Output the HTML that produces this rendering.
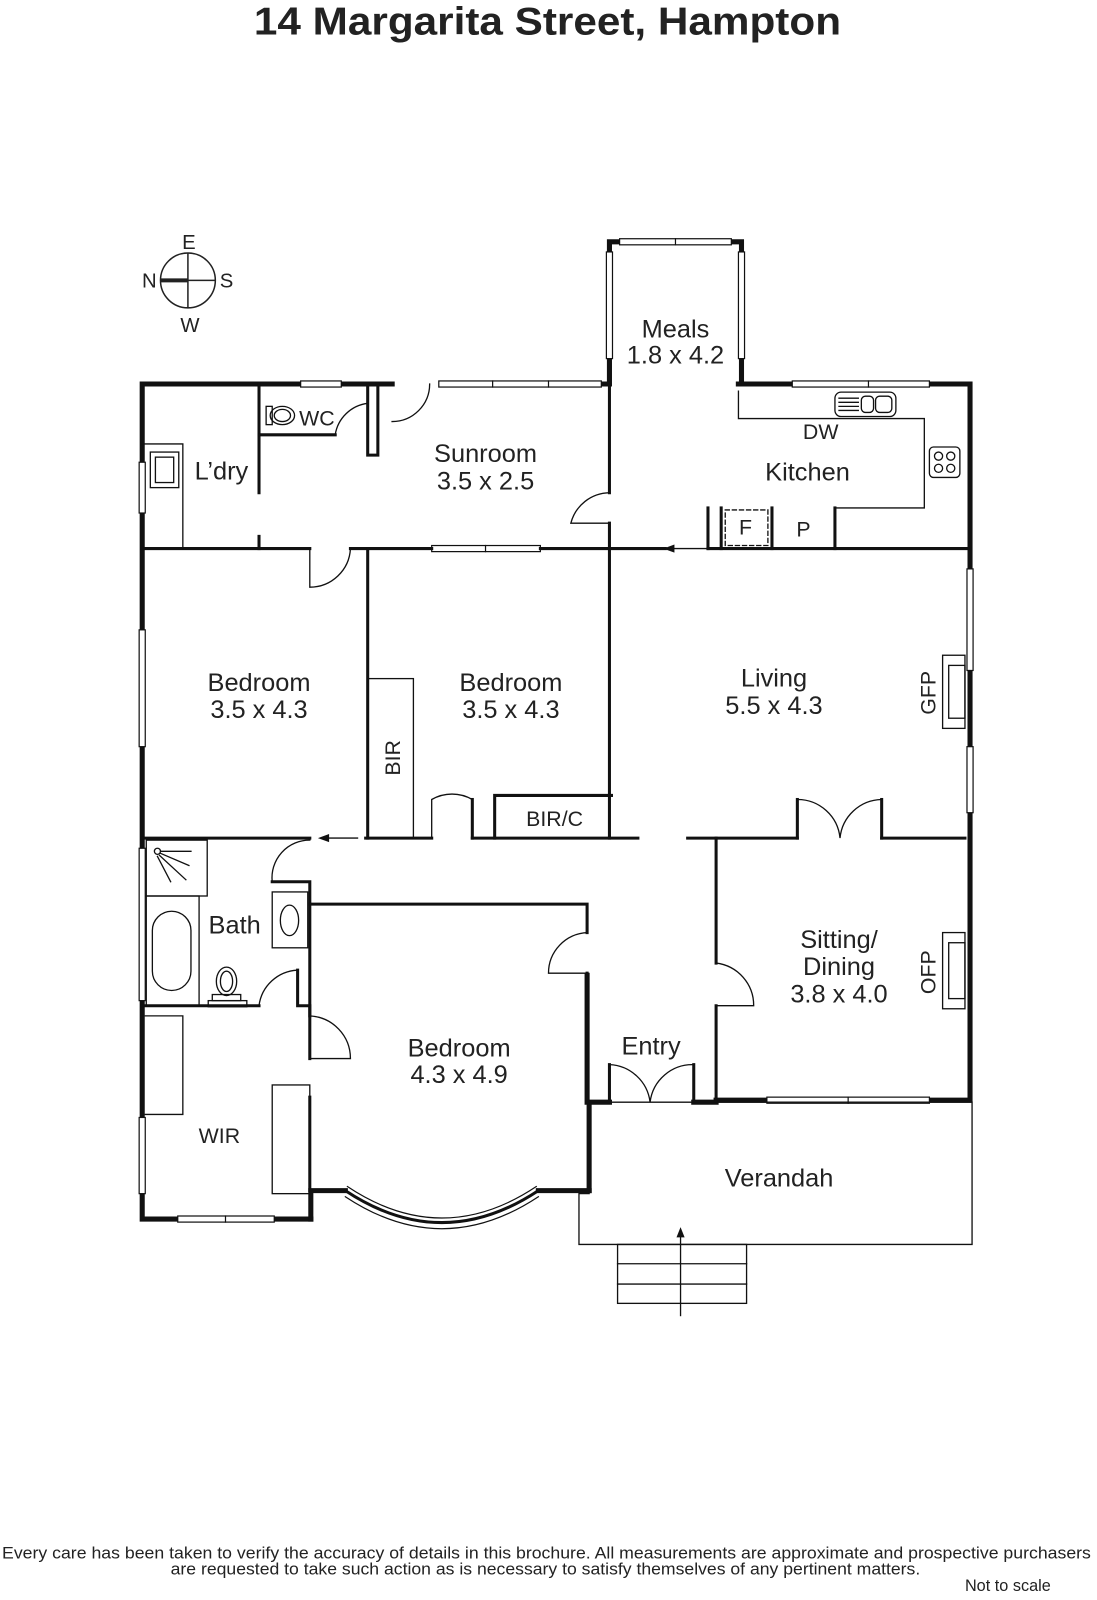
<!DOCTYPE html>
<html><head><meta charset="utf-8"><style>
html,body{margin:0;padding:0;background:#fff;}
svg{display:block}
text{font-family:"Liberation Sans",sans-serif;fill:#222;}
</style></head><body>
<svg width="1097" height="1600" viewBox="0 0 1080 1575" preserveAspectRatio="none" xmlns="http://www.w3.org/2000/svg">
<text x="250" y="34" font-size="38" font-weight="bold" textLength="578" lengthAdjust="spacingAndGlyphs">14 Margarita Street, Hampton</text>

<!-- compass -->
<g stroke="#222" fill="none" stroke-width="1.5">
<circle cx="185" cy="276" r="27"/>
<line x1="185" y1="249" x2="185" y2="303"/>
<line x1="158" y1="276" x2="212" y2="276"/>
</g>
<line x1="158" y1="276" x2="185" y2="276" stroke="#222" stroke-width="4"/>
<g font-size="20" text-anchor="middle">
<text x="186" y="245">E</text><text x="147" y="283">N</text><text x="223" y="283">S</text><text x="187" y="327">W</text>
</g>

<g stroke="#111" fill="none" stroke-linecap="square">
<!-- exterior thick walls -->
<g stroke-width="5">
<polyline points="386,378 140,378 140,1200 175,1200"/>
<line x1="270" y1="1200" x2="306" y2="1200"/>
<polyline points="306,1200 306,1172 340,1172"/>
<line x1="530" y1="1172" x2="580" y2="1172"/>
<polyline points="580,1172 580,1085 600,1085"/>
<polyline points="683,1085 705,1085 705,1083 755,1083"/>
<polyline points="915,1083 955,1083 955,378 915,378"/>
<line x1="727" y1="378" x2="780" y2="378"/>
<polyline points="727,378 730,378 730,238 720,238"/>
<polyline points="610,238 600,238 600,378 590,378"/>
<line x1="372" y1="378" x2="386" y2="378"/>
<line x1="578" y1="1085" x2="578" y2="960"/>
</g>
<!-- windows -->
<g stroke-width="1.2" fill="#fff">
<rect x="137" y="455" width="6" height="50"/><rect x="137" y="620" width="6" height="115"/>
<rect x="137" y="835" width="6" height="150"/><rect x="137" y="1100" width="6" height="75"/>
<rect x="175" y="1197" width="95" height="6"/><line x1="222" y1="1197" x2="222" y2="1203"/>
<rect x="296" y="375" width="40" height="6"/>
<rect x="432" y="375" width="160" height="6"/><line x1="485" y1="375" x2="485" y2="381"/><line x1="540" y1="375" x2="540" y2="381"/>
<rect x="425" y="537" width="107" height="6"/><line x1="478" y1="537" x2="478" y2="543"/>
<rect x="610" y="235" width="110" height="6"/><line x1="665" y1="235" x2="665" y2="241"/>
<rect x="597" y="248" width="6" height="105"/><rect x="727" y="248" width="6" height="105"/>
<rect x="780" y="375" width="135" height="6"/><line x1="855" y1="375" x2="855" y2="381"/>
<rect x="952" y="560" width="6" height="100"/><rect x="952" y="735" width="6" height="65"/>
<rect x="755" y="1080" width="160" height="6"/><line x1="835" y1="1080" x2="835" y2="1086"/>
</g>
<!-- bay window -->
<path d="M340,1172 Q435,1235 530,1172" stroke-width="3"/>
<path d="M340,1178 Q435,1241 530,1178" stroke-width="1.2"/>
<path d="M342,1168 Q435,1230 528,1168" stroke-width="1.2"/>

<!-- interior walls -->
<g stroke-width="3">
<line x1="140" y1="540" x2="305" y2="540"/>
<line x1="345" y1="540" x2="425" y2="540"/><line x1="532" y1="540" x2="655" y2="540"/>
<line x1="697" y1="540" x2="955" y2="540"/>
<line x1="255" y1="378" x2="255" y2="485"/><line x1="255" y1="528" x2="255" y2="540"/>
<line x1="255" y1="428" x2="330" y2="428"/>
<polyline points="362,378 362,448 372,448 372,378"/>
<line x1="600" y1="378" x2="600" y2="485"/><line x1="600" y1="515" x2="600" y2="825"/>
<line x1="362" y1="540" x2="362" y2="825"/>
<line x1="140" y1="825" x2="305" y2="825"/>
<line x1="360" y1="825" x2="425" y2="825"/>
<line x1="465" y1="825" x2="628" y2="825"/>
<polyline points="487,825 487,783 602,783"/>
<line x1="677" y1="825" x2="785" y2="825"/>
<line x1="868" y1="825" x2="950" y2="825"/>
<line x1="785" y1="825" x2="785" y2="787"/><line x1="868" y1="825" x2="868" y2="787"/>
<line x1="465" y1="825" x2="465" y2="787"/>
<line x1="705" y1="825" x2="705" y2="948"/><line x1="705" y1="990" x2="705" y2="1083"/>
<polyline points="268,868 305,868 305,890 578,890 578,918"/>
<line x1="578" y1="958" x2="578" y2="1085"/>
<line x1="305" y1="890" x2="305" y2="1000"/>
<polyline points="293,955 293,990 305,990 305,1042"/>
<line x1="305" y1="1080" x2="305" y2="1172"/>
<line x1="140" y1="990" x2="255" y2="990"/>
<line x1="683" y1="1085" x2="683" y2="1048"/><line x1="600" y1="1085" x2="600" y2="1048"/>
<line x1="697" y1="540" x2="697" y2="500"/><line x1="760" y1="540" x2="760" y2="500"/><line x1="822" y1="540" x2="822" y2="500"/>
<line x1="710" y1="500" x2="710" y2="540"/>
</g>
<!-- door arcs -->
<g stroke-width="1.3">
<path d="M386,415 A37,37 0 0 0 423,378"/>
<path d="M330,428 A37,37 0 0 1 362,397"/>
<path d="M600,485 A40,40 0 0 0 562,515 L600,515"/>
<path d="M305,540 L305,578 A40,40 0 0 0 345,540"/>
<path d="M425,825 L425,787 A40,40 0 0 1 465,787"/>
<path d="M785,787 A42,42 0 0 1 827,825 A42,42 0 0 1 868,787"/>
<path d="M305,827 A37,37 0 0 0 268,868"/>
<path d="M255,990 A40,40 0 0 1 293,955"/>
<path d="M305,1000 A42,42 0 0 1 345,1042 L305,1042"/>
<path d="M578,918 A40,40 0 0 0 540,958 L578,958"/>
<path d="M705,948 A42,42 0 0 1 742,990 L705,990"/>
<path d="M600,1048 A42,42 0 0 1 640,1085 A42,42 0 0 1 683,1048"/>
</g>
<!-- fixtures -->
<g stroke-width="1.3">
<rect x="362" y="668" width="45" height="157"/>
<polyline points="140,437 180,437 180,540"/>
<rect x="148" y="445" width="28" height="35"/><rect x="153" y="450" width="18" height="25"/>
<polyline points="727,385 727,412 910,412 910,500 822,500"/>
<rect x="822" y="386" width="60" height="24" rx="6"/><rect x="848" y="390" width="12" height="16" rx="4"/><rect x="862" y="390" width="16" height="16" rx="4"/>
<line x1="826" y1="392" x2="845" y2="392"/><line x1="826" y1="396" x2="845" y2="396"/><line x1="826" y1="400" x2="845" y2="400"/><line x1="826" y1="404" x2="845" y2="404"/>
<rect x="915" y="440" width="30" height="30" rx="4"/>
<circle cx="924" cy="449" r="4"/><circle cx="936" cy="449" r="4"/><circle cx="924" cy="461" r="4"/><circle cx="936" cy="461" r="4"/>
<rect x="714" y="502" width="42" height="35" stroke-dasharray="4,3"/>
<rect x="262" y="400" width="6" height="18"/><ellipse cx="278" cy="409" rx="12" ry="9"/><ellipse cx="278" cy="409" rx="8" ry="6"/>
<rect x="928" y="645" width="22" height="72"/><rect x="934" y="655" width="16" height="52"/>
<rect x="928" y="918" width="22" height="75"/><rect x="934" y="928" width="16" height="55"/>
<rect x="144" y="827" width="60" height="55"/><circle cx="155" cy="838" r="3"/>
<line x1="158" y1="838" x2="188" y2="838"/><line x1="158" y1="840" x2="186" y2="852"/><line x1="157" y1="842" x2="183" y2="866"/><line x1="155" y1="843" x2="168" y2="868"/>
<rect x="144" y="882" width="52" height="108"/><rect x="150" y="897" width="38" height="78" rx="19"/>
<rect x="268" y="878" width="35" height="55"/><ellipse cx="285" cy="906" rx="9" ry="15"/>
<rect x="205" y="985" width="38" height="6"/><rect x="209" y="979" width="28" height="6"/><ellipse cx="223" cy="966" rx="10" ry="14"/><ellipse cx="223" cy="966" rx="6" ry="10"/>
<polyline points="143,1000 180,1000 180,1097 143,1097"/>
<rect x="268" y="1068" width="37" height="107"/>
<polyline points="580,1085 957,1085 957,1225 570,1225 570,1175 580,1175"/>
<rect x="608" y="1225" width="127" height="58"/>
<line x1="608" y1="1244" x2="735" y2="1244"/><line x1="608" y1="1264" x2="735" y2="1264"/>
<line x1="670" y1="1212" x2="670" y2="1295"/>
<line x1="660" y1="540" x2="695" y2="540"/>
<line x1="320" y1="825" x2="352" y2="825"/>
</g>
</g>
<polygon points="670,1208 666,1218 674,1218" fill="#111"/>
<polygon points="653,540 664,536 664,544" fill="#111"/>
<polygon points="313,825 324,821 324,829" fill="#111"/>

<g font-size="25" text-anchor="middle">
<text x="665" y="332">Meals</text><text x="665" y="358">1.8 x 4.2</text>
<text x="478" y="455">Sunroom</text><text x="478" y="482">3.5 x 2.5</text>
<text x="218" y="472">L’dry</text>
<text x="795" y="473">Kitchen</text>
<text x="255" y="680">Bedroom</text><text x="255" y="707">3.5 x 4.3</text>
<text x="503" y="680">Bedroom</text><text x="503" y="707">3.5 x 4.3</text>
<text x="762" y="676">Living</text><text x="762" y="703">5.5 x 4.3</text>
<text x="231" y="919">Bath</text>
<text x="826" y="933">Sitting/</text><text x="826" y="960">Dining</text><text x="826" y="987">3.8 x 4.0</text>
<text x="452" y="1040">Bedroom</text><text x="452" y="1066">4.3 x 4.9</text>
<text x="641" y="1038">Entry</text>
<text x="767" y="1168">Verandah</text>
</g>
<g font-size="21" text-anchor="middle">
<text x="312" y="419">WC</text>
<text x="808" y="432">DW</text>
<text x="734" y="526">F</text><text x="791" y="528">P</text>
<text x="546" y="813">BIR/C</text>
<text x="216" y="1125">WIR</text>
<text transform="translate(394,746) rotate(-90)">BIR</text>
<text transform="translate(921,682) rotate(-90)">GFP</text>
<text transform="translate(921,957) rotate(-90)">OFP</text>
</g>
<g font-size="16">
<text x="2" y="1534" textLength="1072" lengthAdjust="spacingAndGlyphs">Every care has been taken to verify the accuracy of details in this brochure.  All measurements are approximate and prospective purchasers</text>
<text x="168" y="1550" textLength="738" lengthAdjust="spacingAndGlyphs">are requested to take such action as is necessary to satisfy themselves of any pertinent matters.</text>
<text x="950" y="1566">Not to scale</text>
</g>
</svg>
</body></html>
